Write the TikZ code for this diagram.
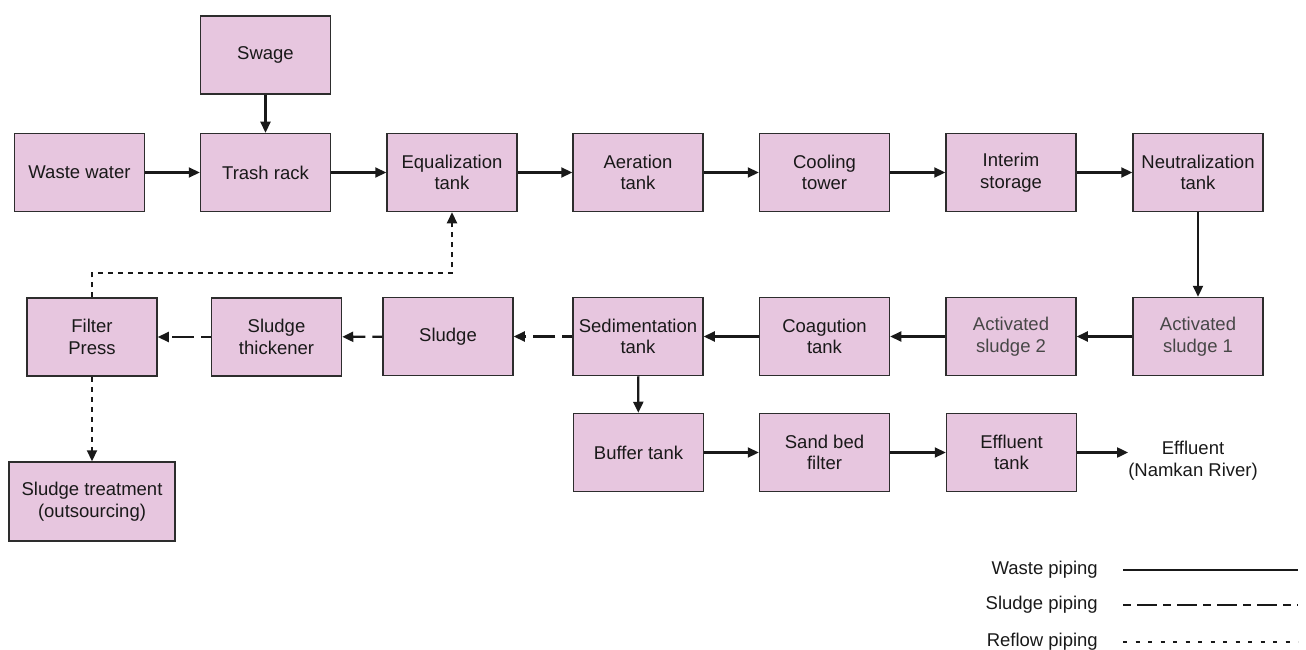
\documentclass[tikz,border=0pt]{standalone}
\usepackage{fontspec}
\setmainfont{Liberation Sans}
\usetikzlibrary{arrows.meta}
\definecolor{boxfill}{RGB}{231,198,223}
\definecolor{boxline}{RGB}{45,45,45}
\definecolor{ink}{RGB}{25,25,25}
\begin{document}
\begin{tikzpicture}[x=1pt,y=-1pt,
  font=\fontsize{18.5}{21.7}\selectfont,
  unit/.style={draw=boxline,fill=boxfill,line width=1.5pt,text=ink,
    minimum width=130pt,minimum height=78pt,align=center,inner sep=2pt},
  pipe/.style={draw=ink,line width=2.2pt,-{Triangle[length=11pt,width=10pt]}},
  waste/.style={pipe},
  sludgeline/.style={pipe,dash pattern=on 10pt off 7pt on 22pt off 7pt},
  reflow/.style={pipe,dash pattern=on 5pt off 5pt},
  legendtext/.style={anchor=east,text=ink,inner sep=0pt}]
\useasboundingbox (0,0) rectangle (1306,650);

% main treatment line
\node[unit] (swage)   at (265.5,55)    {Swage};
\node[unit] (waste)   at (79.5,172.5)  {Waste water};
\node[unit] (trash)   at (265.5,172.5) {Trash rack};
\node[unit] (equal)   at (452,172.5)   {Equalization\\tank};
\node[unit] (aer)     at (638,172.5)   {Aeration\\tank};
\node[unit] (cool)    at (824.5,172.5) {Cooling\\tower};
\node[unit] (interim) at (1011,172.5)  {Interim\\storage};
\node[unit] (neutral) at (1198,172.5)  {Neutralization\\tank};

% biological and sludge line
\node[unit] (filter)  at (92,337)      {Filter\\Press};
\node[unit] (thick)   at (276.5,337)   {Sludge\\thickener};
\node[unit] (sludge)  at (448,336.5)   {Sludge};
\node[unit] (sed)     at (638,336.5)   {Sedimentation\\tank};
\node[unit] (coag)    at (824.5,336.5) {Coagution\\tank};
\node[unit,text=ink!80] (act2) at (1011,336.5) {Activated\\sludge 2};
\node[unit,text=ink!80] (act1) at (1198,336.5) {Activated\\sludge 1};

% polishing line
\node[unit] (buffer)  at (638.5,452.5) {Buffer tank};
\node[unit] (sand)    at (824.5,452.5) {Sand bed\\filter};
\node[unit] (efft)    at (1011.5,452.5){Effluent\\tank};
\node[align=center,text=ink,inner sep=0pt] (effl) at (1193,461) {Effluent\\(Namkan River)};

\node[unit,minimum width=166pt,minimum height=79pt] (treat) at (92,501.5)
  {Sludge treatment\\(outsourcing)};

% waste piping
\draw[waste] (swage) -- (trash);
\draw[waste] (waste) -- (trash);
\draw[waste] (trash) -- (equal);
\draw[waste] (equal) -- (aer);
\draw[waste] (aer) -- (cool);
\draw[waste] (cool) -- (interim);
\draw[waste] (interim) -- (neutral);
\draw[waste] (neutral) -- (act1);
\draw[waste] (act1) -- (act2);
\draw[waste] (act2) -- (coag);
\draw[waste] (coag) -- (sed);
\draw[waste] (sed) -- (buffer);
\draw[waste] (buffer) -- (sand);
\draw[waste] (sand) -- (efft);
\draw[waste] (efft.east) -- (effl.west |- efft.east);

% sludge piping
\draw[sludgeline] (sed) -- (sludge);
\draw[sludgeline] (sludge) -- (thick);
\draw[sludgeline] (thick) -- (filter);

% reflow piping
\draw[reflow] (filter.north) -- (filter.north |- 0,273) -| (equal.south);
\draw[reflow] (filter) -- (treat);

% legend
\node[legendtext] (lw) at (1098,570) {Waste piping};
\node[legendtext] (ls) at (1098,605) {Sludge piping};
\node[legendtext] (lr) at (1098,642) {Reflow piping};
\coordinate (lwa) at (1123,570); \coordinate (lwb) at (1298,570);
\coordinate (lsa) at (1123,605); \coordinate (lsb) at (1298,605);
\coordinate (lra) at (1123,642); \coordinate (lrb) at (1298,642);
\draw[draw=ink,line width=2.2pt] (lwa) -- (lwb);
\draw[draw=ink,line width=2.2pt,dash pattern=on 8pt off 6pt on 20pt off 6pt] (lsa) -- (lsb);
\draw[draw=ink,line width=2.2pt,dash pattern=on 4pt off 8.5pt] (lra) -- (lrb);
\end{tikzpicture}
\end{document}
